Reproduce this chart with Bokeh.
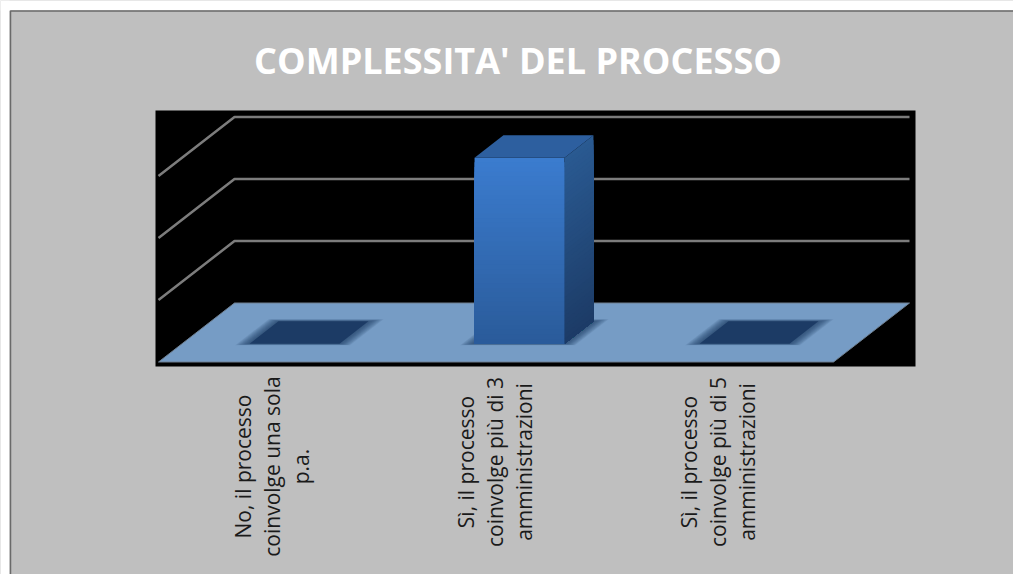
from bokeh.plotting import figure
from bokeh.models import Range1d
from bokeh.core.properties import value as bv
from bokeh.embed import file_html
from bokeh.resources import INLINE

TITLE = "COMPLESSITA' DEL PROCESSO"
categories = [
    ["No, il processo", "coinvolge una sola", "p.a."],
    ["Sì, il processo", "coinvolge più di 3", "amministrazioni"],
    ["Sì, il processo", "coinvolge più di 5", "amministrazioni"],
]
values = [0, 3, 0]
grid_ticks = [1, 2, 3]
label_centres = [466, 461.5, 461.5]
label_shifts = [1, -1, -3]

# layout (page pixels)
W, H = 1013, 574
X0, Y0 = 158.0, 361.5      # front-left floor corner
CAT_W, UNIT_H = 225.0, 62.0
DX, DY = 76.0, 59.0        # full depth offset
BAR_W = 0.4
Z1, Z2 = 0.31, 0.69

p = figure(width=W, height=H, toolbar_location=None, output_backend="svg",
           x_axis_type=None, y_axis_type=None, min_border=0,
           x_range=Range1d(-X0 / CAT_W, (W - X0) / CAT_W),
           y_range=Range1d((Y0 - H) / UNIT_H, Y0 / UNIT_H))
p.outline_line_color = None
p.grid.visible = False
p.background_fill_color = "#bfbfbf"
p.border_fill_color = "#bfbfbf"


def X(c, z=0.0):
    return c + z * DX / CAT_W


def Y(v, z=0.0):
    return v + z * DY / UNIT_H


def PX(px):
    return (px - X0) / CAT_W


def PY(py):
    return (Y0 - py) / UNIT_H


def mix(a, b, t):
    return "#%02x%02x%02x" % tuple(round(a[i] + (b[i] - a[i]) * t) for i in range(3))


# page frame: white strips, then a dark edge on the top and left of the slide
p.quad(left=[PX(0)], right=[PX(W)], top=[PY(0)], bottom=[PY(10)], fill_color="white", line_color=None)
p.quad(left=[PX(0)], right=[PX(9)], top=[PY(0)], bottom=[PY(H)], fill_color="white", line_color=None)
p.line([PX(10), PX(10), PX(W)], [PY(H), PY(10.5), PY(10.5)], line_color="#6a6a6a", line_width=1.5)

# black plot area
p.quad(left=[PX(155)], right=[PX(915)], top=[PY(110)], bottom=[PY(366)], fill_color="black",
       line_color=None)

# gridlines
n = len(categories)
for t in grid_ticks:
    p.line([X(0, 0), X(0, 1), X(n, 1)], [Y(t, 0), Y(t, 1), Y(t, 1)], line_color="#7c7c7c", line_width=2.5)

# floor
p.patch([X(0, 0), X(0, 1), X(n, 1), X(n, 0)], [Y(0, 0), Y(0, 1), Y(0, 1), Y(0, 0)],
        fill_color="#769cc5", line_color="#6f7f90", line_width=1)


def para(c1, c2, z1, z2):
    return [X(c1, z1), X(c2, z1), X(c2, z2), X(c1, z2)], [Y(0, z1), Y(0, z1), Y(0, z2), Y(0, z2)]


for i, v in enumerate(values):
    c1 = i + 0.5 - BAR_W / 2
    c2 = i + 0.5 + BAR_W / 2
    # soft shadow on the floor
    for k in range(10, 0, -1):
        e = k * 0.0055
        xs, ys = para(c1 - e, c2 + e, Z1 - k * 0.0025, Z2 + k * 0.0035)
        p.patch(xs, ys, fill_color="#1d3b63", fill_alpha=0.1, line_color=None)
    if v == 0:
        xs, ys = para(c1, c2, Z1, Z2)
        p.patch(xs, ys, fill_color="#1c3b65", line_color=None)
        continue
    steps = 40
    front_top, front_bot = (0x3b, 0x7c, 0xcf), (0x2a, 0x5b, 0x9a)
    side_top, side_bot = (0x2a, 0x5a, 0x92), (0x1c, 0x3b, 0x66)
    # painted from the top down, each slice reaching the floor, so no seams show
    for s in range(steps - 1, -1, -1):
        v2 = v * (s + 1) / steps
        t = (s + 0.5) / steps
        p.quad(left=[X(c1, Z1)], right=[X(c2, Z1)], bottom=[Y(0, Z1)], top=[Y(v2, Z1)],
               fill_color=mix(front_bot, front_top, t), line_color=None)
        p.patch([X(c2, Z1), X(c2, Z2), X(c2, Z2), X(c2, Z1)],
                [Y(0, Z1), Y(0, Z2), Y(v2, Z2), Y(v2, Z1)],
                fill_color=mix(side_bot, side_top, t), line_color=None)
    p.patch([X(c1, Z1), X(c2, Z1), X(c2, Z2), X(c1, Z2)], [Y(v, Z1), Y(v, Z1), Y(v, Z2), Y(v, Z2)],
            fill_color="#2d5f9f", line_color=None)

# category labels: one text per line, centred on the category
LINE = 29.0
for i, lines in enumerate(categories):
    for j, t in enumerate(lines):
        p.text([X(i + 0.5) + ((j - 1) * LINE + label_shifts[i]) / CAT_W], [PY(label_centres[i])],
               text=[t], angle=1.5708, text_align="center", text_baseline="middle",
               text_font=bv("Open Sans"), text_font_size="21px", text_color="#1a1a1a")

# title
p.text([PX(517.5)], [PY(60)], text=[TITLE], text_align="center", text_baseline="middle",
       text_font=bv("Open Sans"), text_font_style="bold", text_font_size="36px", text_color="white")

open("out.html", "w").write(file_html(p, INLINE))
